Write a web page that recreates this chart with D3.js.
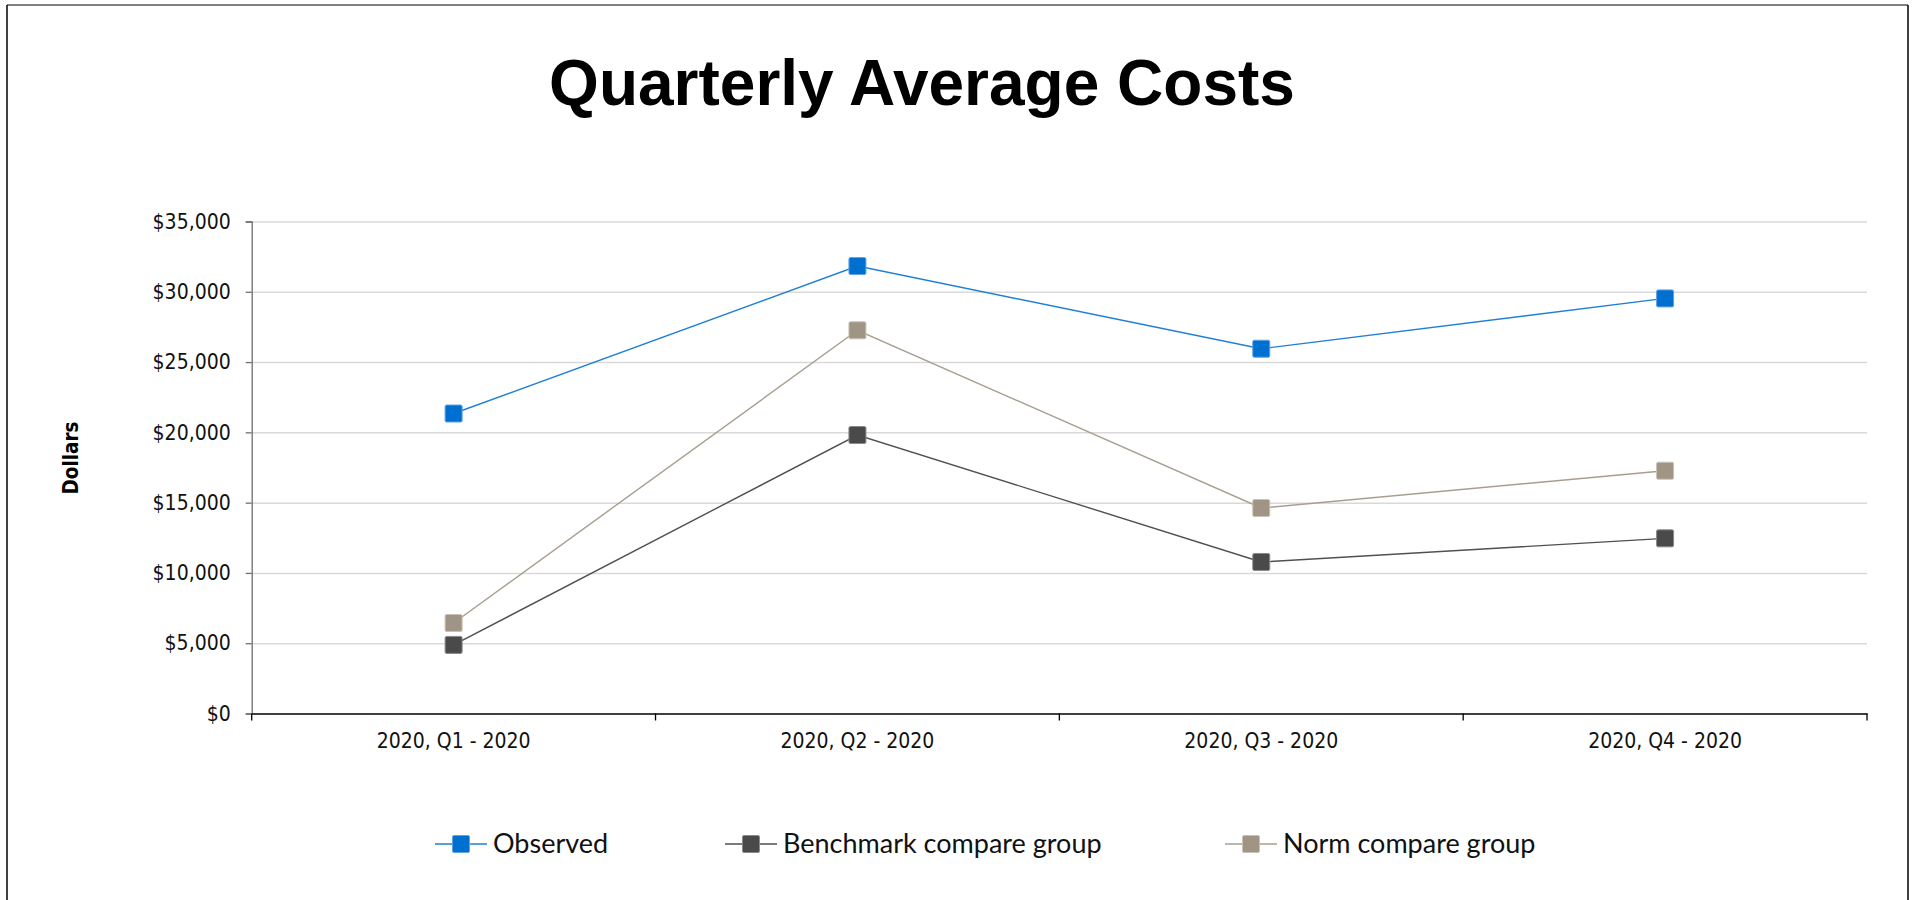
<!DOCTYPE html>
<html>
<head>
<meta charset="utf-8">
<script src="https://cdnjs.cloudflare.com/ajax/libs/d3/7.8.5/d3.min.js"></script>
<style>
  html, body { margin: 0; padding: 0; background: #fff; }
  svg { display: block; }
  .tick text { font-family: "DejaVu Sans Condensed", "DejaVu Sans", sans-serif; font-stretch: condensed; }
</style>
</head>
<body>
<script>
// chart data
var categories = ["2020, Q1 - 2020", "2020, Q2 - 2020", "2020, Q3 - 2020", "2020, Q4 - 2020"];
var observed = [21340, 31830, 25950, 29530];
var benchmark = [4880, 19810, 10780, 12460];
var norm = [6440, 27260, 14620, 17270];
var seriesNames = ["Observed", "Benchmark compare group", "Norm compare group"];
var yTickValues = [0, 5000, 10000, 15000, 20000, 25000, 30000, 35000];

var series = [
  { name: seriesNames[0], values: observed, line: "#1f7fd6", fill: "#0070d0", edge: "#5ea3e4" },
  { name: seriesNames[1], values: benchmark, line: "#505050", fill: "#4a4a4a", edge: "#8a8a8a" },
  { name: seriesNames[2], values: norm, line: "#a89e90", fill: "#a09584", edge: "#c9c1b6" }
];

var W = 1915, H = 900;
var svg = d3.select("body").append("svg")
  .attr("width", W)
  .attr("height", H);

// frame
svg.append("line").attr("x1", 7).attr("x2", 1908).attr("y1", 5).attr("y2", 5)
  .attr("stroke", "#808080").attr("stroke-width", 2);
svg.append("line").attr("x1", 7).attr("x2", 7).attr("y1", 5).attr("y2", H)
  .attr("stroke", "#000").attr("stroke-width", 1.5);
svg.append("line").attr("x1", 1908).attr("x2", 1908).attr("y1", 5).attr("y2", H)
  .attr("stroke", "#000").attr("stroke-width", 1.5);

svg.append("text")
  .attr("x", 922)
  .attr("y", 105)
  .attr("text-anchor", "middle")
  .style("font-family", "'Liberation Sans', Arial, sans-serif")
  .style("font-weight", "bold")
  .style("font-size", "64px")
  .text("Quarterly Average Costs");

var plotLeft = 251.7, plotRight = 1867, plotTop = 221.5, plotBottom = 713.5;

var x = d3.scaleBand()
  .domain(categories)
  .range([plotLeft, plotRight]);

var y = d3.scaleLinear()
  .domain([0, 35000])
  .range([plotBottom, plotTop]);

// gridlines
svg.append("g")
  .attr("transform", "translate(" + plotLeft + ",0)")
  .call(d3.axisLeft(y).tickValues(yTickValues.slice(1)).tickSize(-(plotRight - plotLeft)).tickFormat(""))
  .call(function (g) { g.select(".domain").remove(); })
  .selectAll("line")
  .attr("stroke", "#d9d9d9")
  .attr("stroke-width", 1.5);

// y axis
var yAxis = svg.append("g")
  .attr("transform", "translate(" + plotLeft + ",0)")
  .call(d3.axisLeft(y).tickValues(yTickValues).tickSize(6).tickPadding(15).tickFormat(d3.format("$,")));
yAxis.select(".domain").attr("stroke", "#6e6e6e").attr("stroke-width", 1.3);
yAxis.selectAll(".tick line").attr("stroke", "#6e6e6e").attr("stroke-width", 1.3);
yAxis.selectAll(".tick text")
  .style("font-size", "21px")
  .attr("fill", "#111");

// x axis: labels at band centres, ticks at band edges
var xAxis = svg.append("g")
  .attr("transform", "translate(0," + plotBottom + ")")
  .call(d3.axisBottom(x).tickSize(0).tickPadding(20));
xAxis.select(".domain").attr("stroke", "#000").attr("stroke-width", 1.3);
xAxis.selectAll(".tick text")
  .style("font-size", "21px")
  .attr("fill", "#111");

var edges = categories.map(function (c) { return x(c); }).concat([plotRight]);
svg.append("g")
  .selectAll("line")
  .data(edges)
  .enter().append("line")
  .attr("x1", function (d) { return d; })
  .attr("x2", function (d) { return d; })
  .attr("y1", plotBottom)
  .attr("y2", plotBottom + 7)
  .attr("stroke", "#000")
  .attr("stroke-width", 1.3);

svg.append("text")
  .attr("transform", "translate(71,458) rotate(-90)")
  .attr("text-anchor", "middle")
  .attr("dy", "0.35em")
  .style("font-family", "'DejaVu Sans Condensed', 'DejaVu Sans', sans-serif")
  .style("font-stretch", "condensed")
  .style("font-weight", "bold")
  .style("font-size", "20.5px")
  .text("Dollars");

var line = d3.line()
  .x(function (d, i) { return x(categories[i]) + x.bandwidth() / 2; })
  .y(function (d) { return y(d); });

var ms = 17;

// draw from back to front: norm, benchmark, observed
series.slice().reverse().forEach(function (s) {
  svg.append("path")
    .datum(s.values)
    .attr("fill", "none")
    .attr("stroke", s.line)
    .attr("stroke-width", 1.4)
    .attr("d", line);

  svg.append("g")
    .selectAll("rect")
    .data(s.values)
    .enter().append("rect")
    .attr("x", function (d, i) { return x(categories[i]) + x.bandwidth() / 2 - ms / 2; })
    .attr("y", function (d) { return y(d) - ms / 2; })
    .attr("width", ms)
    .attr("height", ms)
    .attr("rx", 1.5)
    .attr("fill", s.fill)
    .attr("stroke", s.edge)
    .attr("stroke-width", 1);
});

// legend
var legendX = [435, 725, 1225];
var legendY = 844;
var legend = svg.append("g")
  .selectAll("g")
  .data(series)
  .enter().append("g")
  .attr("transform", function (d, i) { return "translate(" + legendX[i] + "," + legendY + ")"; });

legend.append("line")
  .attr("x1", 0)
  .attr("x2", 52)
  .attr("stroke", function (d) { return d.line; })
  .attr("stroke-width", 1.4);

legend.append("rect")
  .attr("x", 26 - ms / 2)
  .attr("y", -ms / 2)
  .attr("width", ms)
  .attr("height", ms)
  .attr("rx", 1.5)
  .attr("fill", function (d) { return d.fill; })
  .attr("stroke", function (d) { return d.edge; })
  .attr("stroke-width", 1);

legend.append("text")
  .attr("x", 58)
  .attr("dy", "0.35em")
  .style("font-family", "Lato, 'Open Sans', sans-serif")
  .style("font-size", "27px")
  .attr("fill", "#111")
  .text(function (d) { return d.name; });
</script>
</body>
</html>
